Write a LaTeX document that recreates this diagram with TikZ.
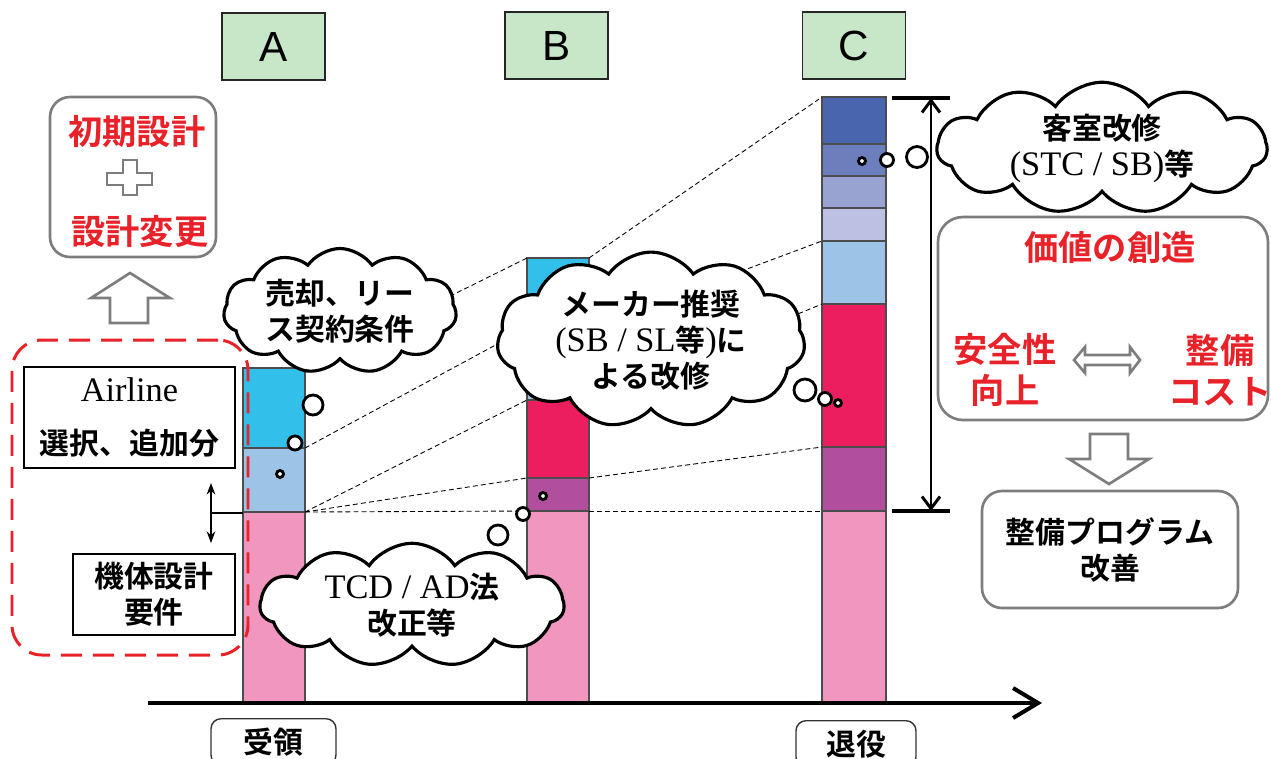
\documentclass[tikz,border=0pt]{standalone}
\usepackage{fontspec}
\setmainfont{Liberation Serif}[Scale=1.15]
\newfontfamily\jpfont{Noto Sans CJK JP Bold}
\newfontfamily\tagfont{Liberation Sans}
\usetikzlibrary{shapes.symbols, arrows.meta, positioning}
\definecolor{pinkc}{RGB}{241,150,190}
\definecolor{ltblue}{RGB}{157,195,231}
\definecolor{cyanc}{RGB}{50,192,235}
\definecolor{redc}{RGB}{236,30,96}
\definecolor{violetc}{RGB}{177,79,157}
\definecolor{blueA}{RGB}{72,101,174}
\definecolor{blueB}{RGB}{108,126,188}
\definecolor{blueC}{RGB}{152,163,209}
\definecolor{blueD}{RGB}{188,192,226}
\definecolor{tagfill}{RGB}{200,230,200}
\definecolor{redtxt}{RGB}{233,33,40}
\definecolor{boxgray}{RGB}{125,125,125}
\newcommand{\ltn}[1]{{\rmfamily #1}}
\tikzset{
  jptext/.style={font=\jpfont\fontsize{17}{20.5}\selectfont, align=center},
  jpred/.style={font=\jpfont\fontsize{19.5}{23.2}\selectfont, text=redtxt, align=center}
}
\tikzset{
  barseg/.style={draw=black!70, line width=0.6pt},
  guide/.style={dash pattern=on 2.8pt off 1.8pt, line width=0.5pt},
  thought/.style={cloud, cloud ignores aspect, cloud puffs=11, cloud puff arc=110, draw, line width=1.8pt, fill=white, inner sep=0pt, jptext},
  bubble/.style={draw, line width=1.6pt, fill=white},
  tagbox/.style={draw=black!85, line width=1pt, fill=tagfill, minimum width=20.6mm, minimum height=13.4mm, font=\tagfont\fontsize{24}{28}\selectfont},
  graybox/.style={draw=boxgray, line width=1.5pt, rounded corners=4mm, fill=white},
  hollow/.style={draw=boxgray, line width=1.5pt, fill=white},
  framebox/.style={draw, line width=1.5pt, jptext},
  stagebox/.style={draw=black!80, line width=0.8pt, rounded corners=2mm, anchor=north, inner ysep=1.8mm, jptext}
}

\begin{document}
\begin{tikzpicture}[x=0.2mm, y=-0.2mm, >=Stealth]
  \clip (0,0) rectangle (1271,758);
  % stage tags
  \node[tagbox] (tagA) at (273.5,46.5) {A};
  \node[tagbox] (tagB) at (556.5,45.5) {B};
  \node[tagbox] (tagC) at (854,45.5) {C};
  % bar A
  \draw[barseg, fill=pinkc] (243,512) rectangle (305,703);
  \draw[barseg, fill=ltblue] (243,448) rectangle (305,512);
  \draw[barseg, fill=cyanc] (243,368) rectangle (305,448);
  % bar B
  \draw[barseg, fill=pinkc] (527,511) rectangle (589,703);
  \draw[barseg, fill=violetc] (527,478) rectangle (589,511);
  \draw[barseg, fill=redc] (527,400) rectangle (589,478);
  \draw[barseg, fill=ltblue] (527,328) rectangle (589,400);
  \draw[barseg, fill=cyanc] (527,258) rectangle (589,328);
  % bar C
  \draw[barseg, fill=pinkc] (822,511) rectangle (886,703);
  \draw[barseg, fill=violetc] (822,447) rectangle (886,511);
  \draw[barseg, fill=redc] (822,304) rectangle (886,447);
  \draw[barseg, fill=ltblue] (822,241) rectangle (886,304);
  \draw[barseg, fill=blueD] (822,208) rectangle (886,241);
  \draw[barseg, fill=blueC] (822,176) rectangle (886,208);
  \draw[barseg, fill=blueB] (822,144) rectangle (886,176);
  \draw[barseg, fill=blueA] (822,97) rectangle (886,144);
  % layer corners
  \coordinate (A0) at (305,368);
  \coordinate (A1) at (305,448);
  \coordinate (A2) at (305,512);
  \coordinate (Bl0) at (527,258);
  \coordinate (Bl1) at (527,328);
  \coordinate (Bl2) at (527,400);
  \coordinate (Bl3) at (527,478);
  \coordinate (Bl4) at (527,511);
  \coordinate (Br0) at (589,258);
  \coordinate (Br1) at (589,328);
  \coordinate (Br2) at (589,400);
  \coordinate (Br3) at (589,478);
  \coordinate (Br4) at (589,511);
  \coordinate (C0) at (822,97);
  \coordinate (C1) at (822,241);
  \coordinate (C2) at (822,304);
  \coordinate (C3) at (822,447);
  \coordinate (C4) at (822,511);
  % growth guides
  \draw[guide] (A0) -- (Bl0);
  \draw[guide] (A1) -- (Bl1);
  \draw[guide] (A2) -- (Bl2);
  \draw[guide] (A2) -- (Bl3);
  \draw[guide] (A2) -- (Bl4);
  \draw[guide] (Br0) -- (C0);
  \draw[guide] (Br1) -- (C1);
  \draw[guide] (Br2) -- (C2);
  \draw[guide] (Br3) -- (C3);
  \draw[guide] (Br4) -- (C4);
  % design block (left)
  \node[graybox, minimum width=33.2mm, minimum height=32mm] (design) at (133,177) {};
  \node[jpred] (initial) at (137,132) {初期設計};
  \draw[hollow] (123,160) -- (137,160) -- (137,173) -- (152,173) -- (152,185) -- (137,185)
    -- (137,195) -- (123,195) -- (123,185) -- (107,185) -- (107,173) -- (123,173) -- cycle;
  \node[jpred] (change) at (140,232) {設計変更};
  \draw[hollow] (110,323) -- (110,298) -- (91,298) -- (130,273) -- (170,298) -- (148,298)
    -- (148,323) -- cycle;
  % airline scope
  \node[draw=redtxt, line width=1.7pt, dash pattern=on 4.2mm off 2.2mm, rounded corners=6mm,
    minimum width=47.2mm, minimum height=63mm] (scope) at (130,497.5) {};
  \node[framebox, minimum width=42.2mm, minimum height=20.2mm] (airline) at (129.5,417.5)
    {\ltn{Airline}\\[3.5mm]選択、追加分};
  \node[framebox, minimum width=32.4mm, minimum height=16.2mm] (airframe) at (154,594.5)
    {機体設計\\要件};
  \coordinate (split) at (211,513);
  \draw[<->, line width=0.8pt] (211,483) -- (211,543);
  \draw[line width=0.6pt] (split) -- (243,513);
  % thought clouds
  \node[thought, minimum width=46.6mm, minimum height=25mm] (sale) at (340,311)
    {売却、リー\\ス契約条件};
  \node[thought, minimum width=61.6mm, minimum height=30.6mm] (maker) at (651,340)
    {メーカー推奨\\\ltn{(SB / SL}等\ltn{)}に\\よる改修};
  \node[thought, minimum width=60.8mm, minimum height=23mm] (tcd) at (412,605)
    {\ltn{TCD / AD}法\\改正等};
  \node[thought, minimum width=66mm, minimum height=25.4mm] (cabin) at (1102,148)
    {客室改修\\\ltn{(STC / SB)}等};
  % bubbles
  \draw[bubble] (313,405) circle (10);
  \draw[bubble] (295,443) circle (7);
  \draw[bubble] (280,474) circle (3.5);
  \draw[bubble] (498,535) circle (10);
  \draw[bubble] (523,514) circle (6.5);
  \draw[bubble] (543,496) circle (3.5);
  \draw[bubble] (917,157) circle (10.5);
  \draw[bubble] (887,160) circle (6.5);
  \draw[bubble] (862,161) circle (3.5);
  \draw[bubble] (805,390) circle (11);
  \draw[bubble] (825,399) circle (6.5);
  \draw[bubble] (838,403) circle (3.5);
  % time axis
  \coordinate (t0) at (148,703);
  \coordinate (t1) at (1042,703);
  \draw[line width=2.3pt, -{Straight Barb[length=5mm, width=6mm]}] (t0) -- (t1);
  \node[stagebox, minimum width=25mm] (recv) at (273.5,718) {受領};
  \node[stagebox, minimum width=24mm] (retire) at (856,720) {退役};
  % life span
  \coordinate (spanTop) at (931,98);
  \coordinate (spanBot) at (931,511);
  \draw[line width=1.7pt, {Straight Barb[length=2.4mm, width=3.6mm]}-{Straight Barb[length=2.4mm, width=3.6mm]}] (spanTop) -- (spanBot);
  \draw[line width=2pt] (892,98) -- (950,98);
  \draw[line width=2pt] (892,511) -- (950,511);
  % value block (right)
  \node[graybox, rounded corners=5mm, minimum width=66mm, minimum height=40.6mm] (value) at (1103,318.5) {};
  \node[jpred] (valtitle) at (1110,247) {価値の創造};
  \node[jpred] (safety) at (1005,370) {安全性\\向上};
  \node[jpred] (cost) at (1220,370) {整備\\コスト};
  \draw[hollow] (1074,360) -- (1085,347) -- (1085,355) -- (1130,355) -- (1130,347) -- (1140,360)
    -- (1130,373) -- (1130,365) -- (1085,365) -- (1085,373) -- cycle;
  \draw[hollow] (1090,434) -- (1128,434) -- (1128,459) -- (1149,459) -- (1109,484) -- (1069,459)
    -- (1090,459) -- cycle;
  \node[graybox, minimum width=51.2mm, minimum height=23.4mm, jptext] (program) at (1110,549.5)
    {整備プログラム\\改善};
\end{tikzpicture}
\end{document}
